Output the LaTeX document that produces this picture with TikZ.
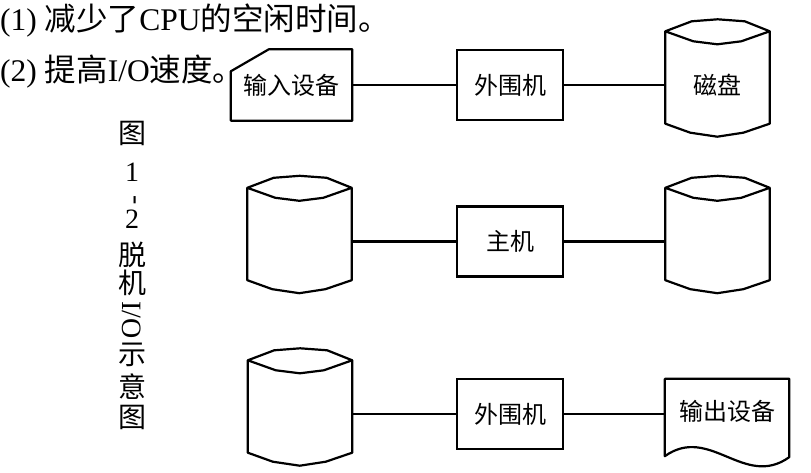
\documentclass[tikz,border=0pt]{standalone}
\usepackage{fontspec}
\setmainfont{Liberation Serif}
\newfontfamily\cjk{Noto Sans CJK SC}
\usepackage{tikz}
\usetikzlibrary{positioning,calc}

% outlines drawn round the named nodes
\newcommand\diskshape[1]{%
  \draw[wire]
    ([yshift=15pt]#1.north west) -- (#1.south west)
    -- ++(25,-9) -- ++(27,-4) -- ++(26,4) -- (#1.south east)
    -- ([yshift=15pt]#1.north east) -- ++(-25,10) -- ++(-27,2) -- ++(-26,-2) -- cycle
    ([yshift=15pt]#1.north west) -- ++(28,-10) -- ++(24,-3) -- ++(24,3) -- ([yshift=15pt]#1.north east);}
\newcommand\inshape[1]{%
  \draw[wire] ([yshift=-22pt]#1.north west) -- ([xshift=38pt]#1.north west) -- (#1.north east)
    -- (#1.south east) -- (#1.south west) -- cycle;}
\newcommand\outshape[1]{%
  \draw[wire] (#1.north west) -- ([yshift=-13pt]#1.south west)
    .. controls +(45,32) and +(-45,-32) .. ([yshift=-14pt]#1.south east) -- (#1.north east) -- cycle;}

\begin{document}
\begin{tikzpicture}[
    x=1pt, y=1pt,
    wire/.style={line width=2.2pt, line join=round},
    box/.style={rectangle, draw, line width=2.2pt, minimum width=106pt, minimum height=70pt, inner sep=0pt, font=\cjk\fontsize{24}{24}\selectfont},
    disk/.style={rectangle, minimum width=104pt, minimum height=77pt, inner sep=0pt, font=\cjk\fontsize{24}{24}\selectfont},
    indev/.style={rectangle, minimum width=121pt, minimum height=71pt, inner sep=0pt, font=\cjk\fontsize{24}{24}\selectfont},
    outdev/.style={rectangle, minimum width=124pt, minimum height=64pt, inner sep=0pt, font=\cjk\fontsize{24}{24}\selectfont},
    txt/.style={anchor=west, inner sep=0pt, font=\fontsize{31.5}{31.5}\selectfont},
    captext/.style={inner sep=0pt, font=\fontsize{28}{28}\selectfont}
]
    \useasboundingbox (0,0) rectangle (811,472);

    % notes
    \node [txt] (t1) at (0,451) {(1) {\cjk 减少了}CPU{\cjk 的空闲时间。}};
    \node [txt] (t2) at (0,400) {(2) {\cjk 提高}I/O{\cjk 速度。}};

    % caption
    \foreach \c/\y [count=\i] in {{\cjk 图}/133, 1/172, 2/219, {\cjk 脱}/255, {\cjk 机}/283, {\cjk 示}/355, {\cjk 意}/387, {\cjk 图}/417}
        \node [captext] (cap\i) at (132,{472-\y}) {\c};
    \node [captext, rotate=-90] (capdash) at (132,272) {-};
    \node [captext, rotate=-90] (capio) at (132,152) {I/O};

    % row 1
    \node [indev] (in) at (291.5,387) {输入设备};
    \node [box] (p1) at (510,387) {外围机};
    \node [disk] (d1) at (717.5,387) {磁盘};
    \inshape{in}
    \diskshape{d1}
    \draw [wire] (in) -- (p1);
    \draw [wire] (p1) -- (d1);

    % row 2
    \node [disk] (d2) at (299.5,230.5) {};
    \node [box] (host) at (510,230.5) {主机};
    \node [disk] (d3) at (717.5,230.5) {};
    \diskshape{d2}
    \diskshape{d3}
    \draw [wire] (d2) -- (host);
    \draw [wire] (host) -- (d3);

    % row 3
    \node [disk] (d4) at (300,58) {};
    \node [box] (p3) at (510,58) {外围机};
    \node [outdev] (out) at (727,61) {输出设备};
    \diskshape{d4}
    \outshape{out}
    \draw [wire] (d4) -- (p3);
    \draw [wire] (p3.east) -- (p3.east -| out.west);
\end{tikzpicture}
\end{document}
